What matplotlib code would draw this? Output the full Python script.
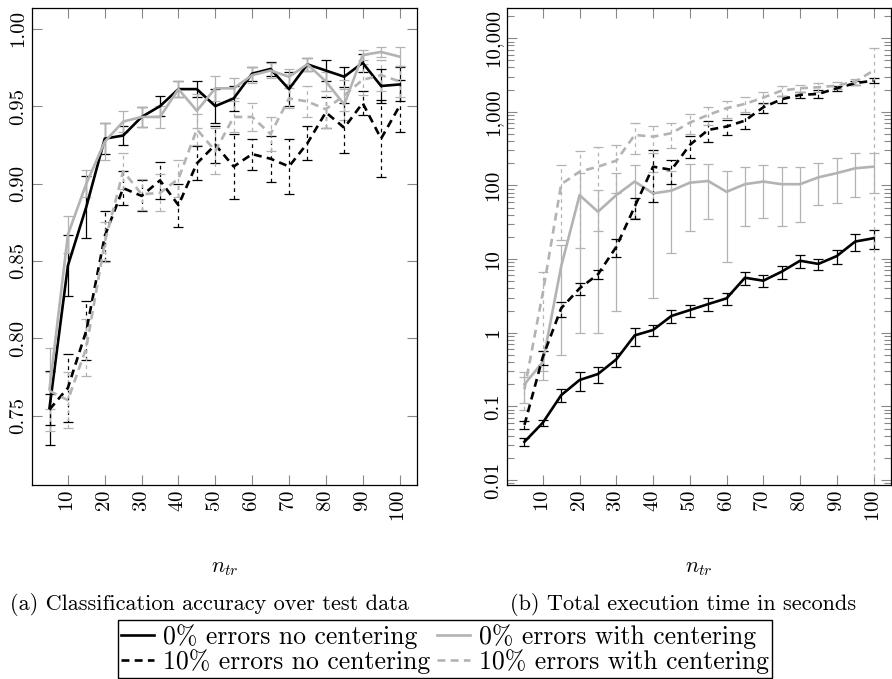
import numpy as np
import matplotlib.pyplot as plt
from matplotlib.ticker import FixedLocator, FuncFormatter, NullFormatter

plt.rcParams['font.family'] = 'serif'
plt.rcParams['font.serif'] = ['cmr10']
plt.rcParams['mathtext.fontset'] = 'cm'
plt.rcParams['axes.formatter.use_mathtext'] = True
plt.rcParams['font.size'] = 15

n_tr = [5, 10, 15, 20, 25, 30, 35, 40, 45, 50, 55, 60, 65, 70, 75, 80, 85, 90, 95, 100]

# (a) accuracy, mean and std
acc_0_nc = [0.755, 0.847, 0.885, 0.929, 0.931, 0.943, 0.950, 0.961, 0.961, 0.950,
            0.955, 0.971, 0.974, 0.961, 0.977, 0.973, 0.969, 0.978, 0.963, 0.964]
acc_0_nc_err = [0.024, 0.020, 0.020, 0.010, 0.006, 0.0065, 0.0065, 0.005, 0.005, 0.011,
                0.008, 0.0045, 0.0045, 0.011, 0.004, 0.007, 0.0065, 0.006, 0.011, 0.011]
acc_0_c = [0.767, 0.867, 0.900, 0.927, 0.940, 0.943, 0.943, 0.961, 0.947, 0.9615,
           0.9615, 0.970, 0.973, 0.969, 0.977, 0.966, 0.951, 0.983, 0.985, 0.982]
acc_0_c_err = [0.027, 0.012, 0.0085, 0.012, 0.007, 0.0065, 0.007, 0.005, 0.011, 0.008,
               0.0065, 0.005, 0.005, 0.005, 0.004, 0.006, 0.010, 0.0035, 0.0035, 0.006]
acc_10_nc = [0.754, 0.768, 0.805, 0.866, 0.897, 0.892, 0.902, 0.886, 0.913, 0.925,
             0.911, 0.919, 0.916, 0.911, 0.926, 0.946, 0.936, 0.952, 0.929, 0.950]
acc_10_nc_err = [0.010, 0.022, 0.019, 0.016, 0.011, 0.010, 0.012, 0.014, 0.011, 0.012,
                 0.021, 0.010, 0.015, 0.018, 0.011, 0.010, 0.016, 0.008, 0.025, 0.017]
acc_10_c = [0.766, 0.760, 0.794, 0.862, 0.908, 0.893, 0.894, 0.903, 0.935, 0.921,
            0.943, 0.943, 0.932, 0.955, 0.953, 0.948, 0.957, 0.967, 0.970, 0.966]
acc_10_c_err = [0.012, 0.018, 0.0185, 0.013, 0.0115, 0.010, 0.012, 0.012, 0.010, 0.015,
                0.010, 0.009, 0.011, 0.0065, 0.010, 0.012, 0.010, 0.010, 0.010, 0.010]

# (b) execution time in seconds, mean and std
time_0_nc = [0.033, 0.060, 0.142, 0.228, 0.275, 0.435, 0.92, 1.09, 1.69, 2.03,
             2.45, 2.93, 5.58, 5.09, 6.75, 9.5, 8.6, 11.0, 17.3, 19.2]
time_0_nc_err = [0.004, 0.006, 0.028, 0.067, 0.068, 0.09, 0.25, 0.19, 0.35, 0.38,
                 0.48, 0.56, 1.15, 0.93, 1.37, 1.9, 1.4, 2.4, 4.6, 5.5]
time_0_c = [0.20, 0.40, 8.0, 74, 44, 74, 113, 78, 85, 109,
            115, 82, 104, 113, 104, 104, 129, 147, 171, 180]
time_0_c_err = [0.09, 0.17, 7.5, 73, 43, 72, 77, 75, 73, 85,
                80, 73, 76, 77, 76, 72, 74, 90, 102, 100]
time_10_nc = [0.056, 0.47, 2.15, 4.0, 6.2, 14.7, 51.5, 180, 163, 355,
              568, 631, 759, 1153, 1482, 1698, 1750, 2090, 2449, 2655]
time_10_nc_err = [0.007, 0.10, 0.5, 0.75, 0.85, 4, 16, 120, 58, 120,
                  173, 153, 170, 177, 165, 170, 200, 150, 150, 200]
time_10_c = [0.17, 3.5, 104, 154, 180, 217, 485, 460, 512, 713,
             908, 1119, 1280, 1560, 1941, 2090, 2158, 2270, 2570, 3630]
time_10_c_err = [0.08, 3.2, 86, 140, 156, 138, 215, 186, 190, 214,
                 245, 288, 300, 290, 310, 227, 290, 240, 250, 3680]

labels = ['0% errors no centering', '0% errors with centering',
          '10% errors no centering', '10% errors with centering']
GREY = '#b3b3b3'
styles = [('black', '-'), (GREY, '-'), ('black', '--'), (GREY, '--')]

W, H = 892, 679
fig = plt.figure(figsize=(W / 100, H / 100), dpi=100)
ax1 = fig.add_axes([32 / W, 1 - 485 / H, 385 / W, 477 / H])
ax2 = fig.add_axes([507 / W, 1 - 485 / H, 384 / W, 477 / H])
ax2.set_yscale('log')


def draw(ax, series):
    handles = []
    for (y, e), (c, ls), lab in zip(series, styles, labels):
        cont = ax.errorbar(n_tr, y, yerr=e, color=c, ls=ls, lw=1.9,
                           elinewidth=0.9, capsize=3.6, capthick=0.9, label=lab)
        if ls == '--':
            cont[0].set_dashes((3, 2))
        for bar in cont[2]:
            bar.set_linestyle((0, (3, 3)) if ls == '--' else '-')
        handles.append(cont[0])
    return handles


h = draw(ax1, [(acc_0_nc, acc_0_nc_err), (acc_0_c, acc_0_c_err),
               (acc_10_nc, acc_10_nc_err), (acc_10_c, acc_10_c_err)])
draw(ax2, [(time_0_nc, time_0_nc_err), (time_0_c, time_0_c_err),
           (time_10_nc, time_10_nc_err), (time_10_c, time_10_c_err)])

for ax in (ax1, ax2):
    ax.set_xlim(0.25, 104.75)
    ax.set_xticks(range(10, 101, 10))
    ax.tick_params(axis='x', labelrotation=90)
    ax.tick_params(which='both', direction='in', top=True, right=True,
                   color='#888888', width=0.8)
    ax.tick_params(which='major', length=7)
    ax.tick_params(which='minor', length=5)
    ax.tick_params(axis='y', labelrotation=90)
    ax.set_xlabel('$n_{tr}$', fontsize=16)
    ax.xaxis.set_label_coords(0.5, -(558 - 485) / 477)
    for s in ax.spines.values():
        s.set_linewidth(0.9)

ax1.set_ylim(0.7052, 1.0134)
ax1.set_yticks([0.75, 0.80, 0.85, 0.90, 0.95, 1.00])
ax1.yaxis.set_major_formatter(FuncFormatter(lambda v, p: f'{v:.2f}'))

ax2.set_ylim(10 ** -2.068, 10 ** 4.41)
ax2.yaxis.set_major_locator(FixedLocator([0.01, 0.1, 1, 10, 100, 1000, 10000]))
minors = [m * 10.0 ** k for k in range(-3, 5) for m in range(2, 10)]
ax2.yaxis.set_minor_locator(FixedLocator(minors))
ax2.yaxis.set_minor_formatter(NullFormatter())
ax2.yaxis.set_major_formatter(FuncFormatter(
    lambda v, p: f'{v:g}' if v < 1 else f'{int(round(v)):,}'))

for ax in (ax1, ax2):
    for lab in ax.get_yticklabels():
        lab.set_va('center')

fig.text(209.5 / W, 1 - 604 / H, '(a) Classification accuracy over test data',
         ha='center', va='center', fontsize=16)
fig.text(683.5 / W, 1 - 604 / H, '(b) Total execution time in seconds',
         ha='center', va='center', fontsize=16)

# legend rows: 0% pair on top, 10% pair below
order = [0, 2, 1, 3]
fig.legend([h[i] for i in order], [labels[i] for i in order], ncol=2,
           loc='lower center', bbox_to_anchor=(445 / W, 1 / H), fontsize=18.5,
           frameon=True, fancybox=False, edgecolor='black', framealpha=1,
           handlelength=1.25, handletextpad=0.35, columnspacing=0.3,
           borderpad=0.15, labelspacing=0.02, borderaxespad=0)

fig.savefig('out.png', dpi=100)
